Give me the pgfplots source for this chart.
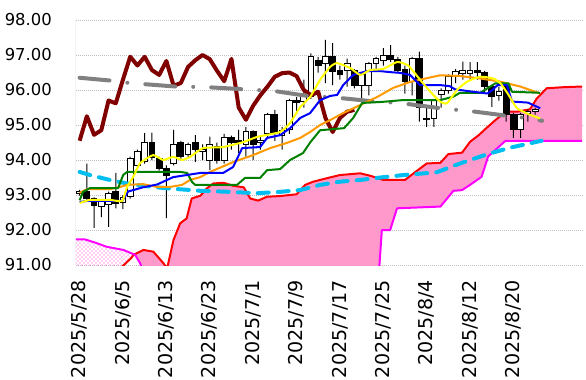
\documentclass[border=0pt]{standalone}
\usepackage{fontspec}
\setmainfont{DejaVu Sans}
\usepackage{pgfplots}
\usepackage{pgfplotstable}
\pgfplotsset{compat=1.18}
\usetikzlibrary{patterns}

\definecolor{maroonc}{RGB}{128,0,0}
\definecolor{grayc}{RGB}{128,128,128}
\definecolor{cyanc}{RGB}{0,190,240}
\definecolor{yellowc}{RGB}{255,255,0}
\definecolor{bluec}{RGB}{0,0,255}
\definecolor{greenc}{RGB}{0,128,0}
\definecolor{orangec}{RGB}{255,153,0}
\definecolor{redc}{RGB}{255,0,0}
\definecolor{magc}{RGB}{255,0,255}
\definecolor{pinkc}{RGB}{255,153,204}
\definecolor{dotc}{RGB}{255,51,204}
\definecolor{gridc}{RGB}{191,191,191}
\definecolor{axisc}{RGB}{166,166,166}

\pgfplotstableread{
i O H L C
0 93.03 93.15 92.98 93.09
1 93.09 93.90 92.85 92.91
2 92.90 92.93 92.06 92.69
3 92.68 92.88 92.37 92.83
4 92.72 93.10 92.09 93.05
5 93.09 93.63 92.62 92.75
6 92.78 93.00 92.60 92.92
7 92.95 94.10 92.90 94.05
8 93.85 94.30 93.80 94.23
9 93.95 94.77 93.90 94.50
10 94.50 94.78 94.00 94.07
11 94.05 94.10 93.70 93.77
12 93.77 93.85 92.34 93.55
13 93.90 94.86 93.85 94.45
14 94.49 94.55 94.00 94.10
15 94.15 94.50 94.05 94.45
16 94.49 94.71 93.95 94.29
17 94.23 94.45 94.00 94.30
18 94.00 94.67 93.71 94.43
19 94.40 94.50 93.90 94.00
20 94.00 94.75 93.90 94.63
21 94.63 94.70 94.30 94.49
22 94.57 94.86 94.20 94.49
23 94.43 94.95 94.10 94.81
24 94.81 94.85 94.00 94.43
25 94.50 94.70 94.30 94.55
26 94.77 95.35 94.60 95.29
27 95.29 95.43 94.55 94.77
28 94.70 94.95 94.30 94.85
29 94.86 95.75 94.75 95.71
30 95.71 95.80 95.40 95.64
31 95.66 96.30 95.50 95.86
32 95.81 97.05 95.75 96.97
33 96.83 96.95 96.50 96.70
34 96.77 97.43 96.20 96.97
35 96.97 97.34 96.14 96.52
36 96.55 96.70 96.30 96.43
37 96.55 96.90 96.10 96.77
38 96.55 96.60 96.05 96.12
39 96.14 96.50 95.77 96.45
40 96.14 96.80 95.85 96.77
41 96.77 96.95 96.60 96.90
42 96.85 97.20 96.70 97.00
43 96.98 97.28 96.80 96.88
44 96.88 96.95 96.50 96.55
45 96.60 96.70 95.90 96.25
46 96.25 96.95 95.85 96.89
47 96.89 97.10 95.10 95.50
48 95.20 95.50 94.95 95.15
49 95.20 95.70 94.95 95.71
50 95.86 96.05 95.50 96.00
51 96.00 96.45 95.90 96.38
52 96.38 96.60 96.20 96.52
53 96.48 96.81 96.30 96.55
54 96.48 96.80 96.30 96.55
55 96.55 96.80 96.30 96.49
56 96.49 96.55 95.90 96.10
57 96.10 96.15 95.52 95.81
58 95.85 96.10 95.70 95.95
59 96.10 96.15 95.10 95.29
60 95.29 95.35 94.63 94.86
61 94.86 95.35 94.63 95.29
62 95.33 95.45 95.10 95.38
63 95.38 95.50 95.30 95.43
}\candles

\pgfplotstableread{
i v
-0.5 90.5
2 90.6
5.37 90.85
7.19 91.21
7.45 91.29
8.83 91.43
10.2 91.38
11.6 91.05
12.1 90.9
12.98 91.71
13.9 92.19
14.8 92.33
15.5 92.9
16.7 92.98
17.6 93.19
18.5 93.33
19.9 93.35
21.3 93.26
22.7 93.22
23.6 92.9
24.7 92.84
25.9 92.95
27.7 92.97
30.0 93.02
31.2 93.29
32.3 93.38
34.2 93.48
36.0 93.57
38.8 93.62
40.2 93.55
42.0 93.43
45.0 93.43
46.2 93.62
48.0 93.9
49.9 93.92
51.0 94.17
52.9 94.21
54.0 94.52
55.2 94.71
56.3 94.92
57.5 95.14
58.1 95.24
59.1 95.38
60.5 95.38
62.3 95.45
63.2 95.75
64.6 96.05
66.9 96.08
69.5 96.1
}\spanA

\pgfplotstableread{
i v
-0.5 91.73
0.76 91.73
2.14 91.64
3.76 91.52
6.06 91.43
7.68 91.29
8.37 91.05
9.0 90.6
20 90.4
41.3 90.5
41.8 92.0
42.95 92.0
43.9 92.62
49.9 92.67
51.7 93.12
52.9 93.14
54.0 93.29
55.6 93.52
56.5 94.1
58.9 94.55
69.5 94.55
}\spanB

% cloud where span B is above span A (dotted)
\pgfplotstableread{
i v
-0.5 91.73
0.76 91.73
2.14 91.64
3.76 91.52
6.06 91.43
7.5 91.31
7.19 91.21
5.37 90.85
2 90.6
-0.5 90.5
}\cloudneg

% cloud where span A is above span B (solid pink)
\pgfplotstableread{
i v
7.5 91.31
8.83 91.43
10.2 91.38
11.6 91.05
12.1 90.9
12.98 91.71
13.9 92.19
14.8 92.33
15.5 92.9
16.7 92.98
17.6 93.19
18.5 93.33
19.9 93.35
21.3 93.26
22.7 93.22
23.6 92.9
24.7 92.84
25.9 92.95
27.7 92.97
30.0 93.02
31.2 93.29
32.3 93.38
34.2 93.48
36.0 93.57
38.8 93.62
40.2 93.55
42.0 93.43
45.0 93.43
46.2 93.62
48.0 93.9
49.9 93.92
51.0 94.17
52.9 94.21
54.0 94.52
55.2 94.71
56.3 94.92
57.5 95.14
58.1 95.24
59.1 95.38
60.5 95.38
62.3 95.45
63.2 95.75
64.6 96.05
66.9 96.08
69.5 96.1
69.5 94.55
58.9 94.55
56.5 94.1
55.6 93.52
54.0 93.29
52.9 93.14
51.7 93.12
49.9 92.67
43.9 92.62
42.95 92.0
41.8 92.0
41.3 90.5
20 90.4
9.0 90.6
8.37 91.05
7.68 91.29
7.5 91.31
}\cloudpos

\pgfplotstableread{
i v
0 94.55
1 95.25
2 94.72
3 94.85
4 95.7
5 95.62
6 96.3
7 96.95
8 96.7
9 96.95
10 96.57
11 96.43
12 96.83
13 96.12
14 96.2
15 96.66
16 96.85
17 97.0
18 96.88
19 96.55
20 96.25
21 96.89
22 95.5
23 95.15
24 95.55
25 95.85
26 96.1
27 96.38
28 96.48
29 96.5
30 96.4
31 96.0
32 95.85
33 95.95
34 95.2
35 94.8
36 95.2
37 95.38
38 95.43
}\chikou

\pgfplotstableread{
i v
0 96.35
4.22 96.27
6.43 96.21
8.78 96.17
13.21 96.1
17.63 96.08
22.06 96.03
24.41 96.0
26.63 95.98
31.19 95.84
33.26 95.81
35.62 95.78
39.9 95.69
44.61 95.62
48.76 95.51
51.11 95.45
53.6 95.41
57.75 95.3
59.96 95.24
62.31 95.19
63.97 95.12
}\grayma

\pgfplotstableread{
i v
0 93.66
1.45 93.57
3.76 93.45
6.5 93.33
8.8 93.26
12.1 93.19
14.8 93.15
16.7 93.12
20.8 93.09
24.5 93.05
27.7 93.09
30.5 93.14
33.3 93.29
36.0 93.38
38.8 93.43
41.6 93.5
44.8 93.57
49.4 93.65
52.6 93.9
56.3 94.16
59.5 94.35
63.9 94.55
}\cyanma

\pgfplotstableread{
i v
0 93.06
1.04 93.17
4.22 93.17
5.6 93.23
6.57 93.29
8.78 93.31
10.72 93.23
12.52 93.23
14.18 93.29
15.28 93.43
16.67 93.51
18.05 93.66
21.23 93.94
23.99 94.14
26.35 94.34
28.7 94.49
30.5 94.63
31.88 94.8
33.26 95.0
34.65 95.14
36.45 95.34
38.8 95.57
41.15 95.8
43.36 96.06
45.71 96.23
48.06 96.34
49.86 96.42
52.6 96.4
55.4 96.33
58.16 96.24
60.93 96.1
63.7 95.9
}\orangema

\pgfplotstableread{
i v
0 92.85
0.48 93.09
1.45 93.2
5.33 93.2
6.02 93.57
6.57 93.66
13.9 93.66
14.87 93.63
15.56 93.37
15.98 93.29
21.78 93.29
22.89 93.49
24.97 93.49
25.93 93.71
27.73 93.74
29.11 94.0
30.91 94.2
31.88 94.5
33.26 94.85
36.58 94.91
37.83 95.2
39.08 95.63
41.84 95.66
44.61 95.71
49.86 95.71
51.7 95.81
52.6 95.92
55.4 95.92
57.5 96.19
59.3 96.19
59.8 95.95
63.7 95.92
}\greenma

\pgfplotstableread{
i v
0 92.8
1.04 92.83
5.88 92.83
6.71 93.1
8.78 93.22
10.72 93.3
12.93 93.51
16.67 93.63
19.85 93.63
21.23 93.8
22.48 94.34
24.97 94.37
25.93 94.63
27.73 94.71
29.11 94.91
30.5 95.2
31.88 95.34
33.26 95.71
34.65 95.83
35.62 95.86
36.45 96.14
37.83 96.43
39.76 96.54
41.56 96.54
42.95 96.51
44.33 96.49
45.71 96.43
47.1 96.14
49.86 96.14
51.2 96.11
51.9 96.02
54.4 95.95
56.4 95.9
57.1 96.0
57.8 96.14
59.1 96.14
59.8 95.67
62.0 95.64
63.7 95.48
}\bluema

\pgfplotstableread{
i v
0 92.77
1.45 92.86
4.22 92.86
5.88 92.83
6.57 93.23
7.4 93.51
8.37 93.91
10.17 94.14
11.55 94.0
12.93 94.09
14.18 94.0
15.28 94.09
17.08 94.34
19.85 94.37
22.61 94.51
24.55 94.66
27.73 94.8
29.11 95.06
30.5 95.51
31.88 95.8
33.26 96.29
34.65 96.66
35.62 96.77
37.41 96.63
38.8 96.43
40.18 96.57
41.98 96.6
43.91 96.8
45.44 96.7
47.1 96.29
48.5 95.95
49.86 95.67
50.8 95.62
52.2 96.0
53.6 96.24
55.4 96.38
57.2 96.33
58.2 96.19
59.2 95.9
60.5 95.48
62.3 95.29
63.7 95.19
}\yellowma

\pgfplotsset{base/.style={width=379.6pt, height=183.75pt, scale only axis,
  xmin=-0.5, xmax=69.5, ymin=91, ymax=98}}

\begin{document}
\begin{tikzpicture}
\begin{axis}[base,
  axis line style={draw=none},
  major tick length=0pt,
  ytick={91,92,93,94,95,96,97,98},
  yticklabels={91.00,92.00,93.00,94.00,95.00,96.00,97.00,98.00},
  xtick={0,6,12,18,24,30,36,42,48,54,60},
  xticklabels={2025/5/28,2025/6/5,2025/6/13,2025/6/23,2025/7/1,2025/7/9,2025/7/17,2025/7/25,2025/8/4,2025/8/12,2025/8/20},
  ymajorgrids,
  major grid style={gridc, line width=0.75pt, dash pattern=on 0.75pt off 0.75pt},
  yticklabel style={font=\fontsize{12.3}{14}\selectfont, anchor=east, inner sep=0pt, xshift=-18pt},
  xticklabel style={font=\fontsize{14.3}{16}\selectfont, yshift=-11.25pt, rotate=90, anchor=east, inner sep=0pt},
]
\addplot[draw=none, pattern=crosshatch dots, pattern color=dotc] table[x=i,y=v]{\cloudneg} -- cycle;
\addplot[draw=none, fill=pinkc] table[x=i,y=v]{\cloudpos} -- cycle;
\addplot[redc, line width=1.5pt, line join=round] table[x=i,y=v]{\spanA};
\addplot[magc, line width=1.5pt, line join=round] table[x=i,y=v]{\spanB};
\addplot[axisc, line width=0.75pt] coordinates {(-0.5,91) (-0.5,98)};
\end{axis}

\begin{axis}[base, hide axis, ybar stacked, bar width=0.75pt]
\addplot[draw=none, fill=none] table[x=i, y=L]{\candles};
\addplot[draw=none, fill=black] table[x=i, y expr={\thisrow{H}-\thisrow{L}}]{\candles};
\end{axis}

\begin{axis}[base, hide axis, ybar stacked, bar width=4.3pt]
\addplot[draw=none, fill=none] table[x=i, y expr={min(\thisrow{O},\thisrow{C})}]{\candles};
\addplot[draw=black, fill=white, line width=0.75pt] table[x=i, y expr={max(\thisrow{C}-\thisrow{O},0)}]{\candles};
\addplot[draw=black, fill=black, line width=0.75pt] table[x=i, y expr={max(\thisrow{O}-\thisrow{C},0)}]{\candles};
\end{axis}

\begin{axis}[base, hide axis]
\addplot[maroonc, line width=3pt, line join=round] table[x=i,y=v]{\chikou};
\addplot[grayc, line width=3pt, line cap=round, dash pattern=on 22.5pt off 13.5pt on 0.01pt off 13.5pt] table[x=i,y=v]{\grayma};
\addplot[cyanc, line width=3pt, line cap=round, dash pattern=on 8.25pt off 6.75pt] table[x=i,y=v]{\cyanma};
\addplot[orangec, line width=1.5pt, line join=round] table[x=i,y=v]{\orangema};
\addplot[greenc, line width=1.5pt, line join=round] table[x=i,y=v]{\greenma};
\addplot[bluec, line width=1.5pt, line join=round] table[x=i,y=v]{\bluema};
\addplot[yellowc, line width=1.5pt, line join=round, smooth, tension=0.3] table[x=i,y=v]{\yellowma};
\end{axis}
\path[use as bounding box] (-57pt,-85.5pt) rectangle (382.5pt,198.75pt);
\end{tikzpicture}
\end{document}
